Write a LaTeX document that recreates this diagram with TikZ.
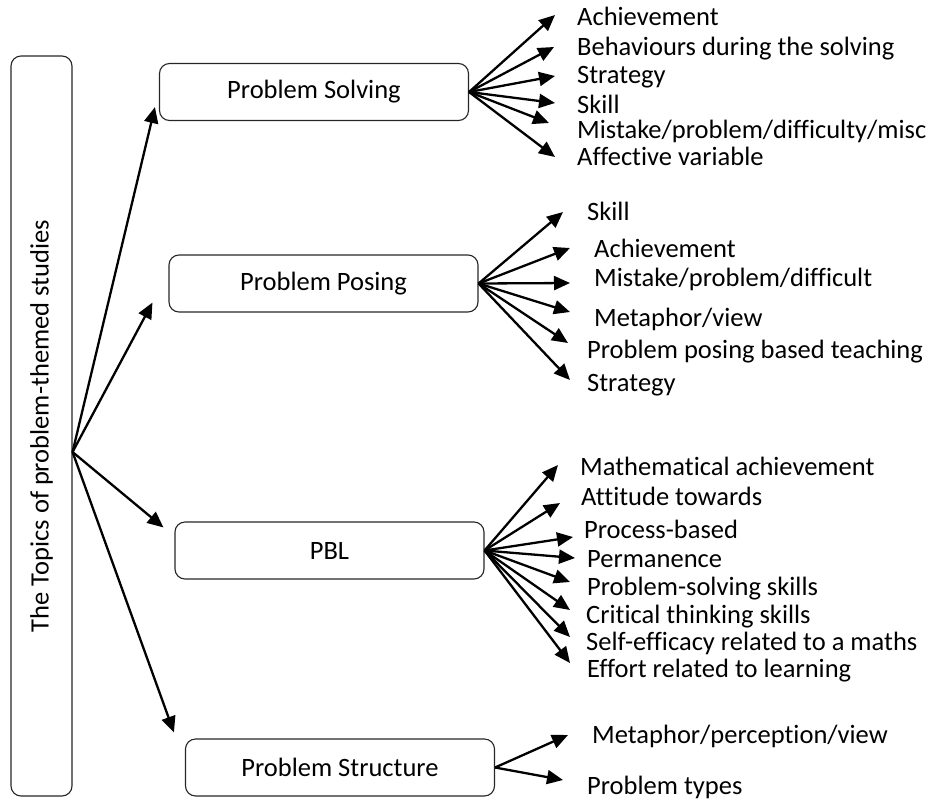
\documentclass[tikz,border=0pt]{standalone}
\usepackage{fontspec}
\setmainfont{Carlito}[Ligatures=NoCommon]
\usetikzlibrary{arrows.meta}

\begin{document}
\begin{tikzpicture}[x=1pt, y=-1pt]
  \tikzstyle{topic_main}  = [shape = rectangle, draw = black!85, line width=1.1pt, rounded corners=10pt, minimum width=740pt, minimum height=61pt, inner sep=0pt, font=\fontsize{26.5}{30}\selectfont]
  \tikzstyle{topic_box}   = [shape = rectangle, draw = black!85, line width=1.1pt, rounded corners=10pt, minimum width=309pt, minimum height=57pt, inner sep=0pt, font=\fontsize{26.5}{30}\selectfont]
  \tikzstyle{topic_item}  = [anchor = west, inner sep=0pt, text height=17pt, text depth=0pt, font=\fontsize{26.5}{30}\selectfont]
  \tikzstyle{topic_arrow} = [-{Triangle[length=16pt, width=14pt]}, line width=2.3pt]

  \useasboundingbox (0,0) rectangle (935,801);

  \node[topic_main, rotate=90] at (41.5,426) (t) {The Topics of problem-themed studies};
  \coordinate (hub) at ([yshift=-26pt]t.south);

  \node[topic_box] at (314.0, 92.0) (n1) {Problem Solving};
  \node[topic_box] at (323.5,283.5) (n2) {Problem Posing};
  \node[topic_box] at (329.5,550.5) (n3) {PBL};
  \node[topic_box] at (340.0,767.5) (n4) {Problem Structure};

  % problem solving
  \node[topic_item] at (577, 17) (n1_l1) {Achievement};
  \node[topic_item] at (577, 47) (n1_l2) {Behaviours during the solving};
  \node[topic_item] at (577, 75) (n1_l3) {Strategy};
  \node[topic_item] at (577,105) (n1_l4) {Skill};
  \node[topic_item] at (577,130) (n1_l5) {Mistake/problem/difficulty/misc};
  \node[topic_item] at (577,157) (n1_l6) {Affective variable};

  % problem posing
  \node[topic_item] at (587,212) (n2_l1) {Skill};
  \node[topic_item] at (594,249) (n2_l2) {Achievement};
  \node[topic_item] at (594,278) (n2_l3) {Mistake/problem/difficult};
  \node[topic_item] at (594,318) (n2_l4) {Metaphor/view};
  \node[topic_item] at (587,350) (n2_l5) {Problem posing based teaching};
  \node[topic_item] at (587,383) (n2_l6) {Strategy};

  % PBL
  \node[topic_item] at (580,467) (n3_l1) {Mathematical achievement};
  \node[topic_item] at (581,497) (n3_l2) {Attitude towards};
  \node[topic_item] at (584,530) (n3_l3) {Process-based};
  \node[topic_item] at (587,559) (n3_l4) {Permanence};
  \node[topic_item] at (587,587) (n3_l5) {Problem-solving skills};
  \node[topic_item] at (586,615) (n3_l6) {Critical thinking skills};
  \node[topic_item] at (586,642) (n3_l7) {Self-efficacy related to a maths};
  \node[topic_item] at (587,669) (n3_l8) {Effort related to learning};

  % problem structure
  \node[topic_item] at (592,735) (n4_l1) {Metaphor/perception/view};
  \node[topic_item] at (587,786) (n4_l2) {Problem types};

  \path[topic_arrow]
    (hub) edge ([xshift=-4pt,  yshift=14pt]n1.south west)
    (hub) edge ([xshift=-16pt, yshift=10pt]n2.south west)
    (hub) edge ([xshift=-11pt, yshift=-6pt]n3.north west)
    (hub) edge ([xshift=-11pt, yshift=6pt]n4.north west)
  ;

  \path[topic_arrow]
    (n1.east) edge ([xshift=-22pt, yshift=2pt]n1_l1.west)
    (n1.east) edge ([xshift=-23pt]n1_l2.west)
    (n1.east) edge ([xshift=-22pt, yshift=-1pt]n1_l3.west)
    (n1.east) edge ([xshift=-22pt, yshift=2pt]n1_l4.west)
    (n1.east) edge ([xshift=-28pt, yshift=7pt]n1_l5.west)
    (n1.east) edge ([xshift=-22pt]n1_l6.west)
  ;

  \path[topic_arrow]
    (n2.east) edge ([xshift=-24pt]n2_l1.west)
    (n2.east) edge ([xshift=-24pt, yshift=1pt]n2_l2.west)
    (n2.east) edge ([xshift=-24pt, yshift=-5pt]n2_l3.west)
    (n2.east) edge ([xshift=-24pt, yshift=6pt]n2_l4.west)
    (n2.east) edge ([xshift=-19pt, yshift=7pt]n2_l5.west)
    (n2.east) edge ([xshift=-17pt, yshift=3pt]n2_l6.west)
  ;

  \path[topic_arrow]
    (n3.east) edge ([xshift=-22pt, yshift=2pt]n3_l1.west)
    (n3.east) edge ([xshift=-21pt, yshift=-6pt]n3_l2.west)
    (n3.east) edge ([xshift=-11pt, yshift=-7pt]n3_l3.west)
    (n3.east) edge ([xshift=-12pt, yshift=1pt]n3_l4.west)
    (n3.east) edge ([xshift=-17pt, yshift=5pt]n3_l5.west)
    (n3.east) edge ([xshift=-16pt, yshift=5pt]n3_l6.west)
    (n3.east) edge ([xshift=-16pt, yshift=5pt]n3_l7.west)
    (n3.east) edge ([xshift=-17pt, yshift=6pt]n3_l8.west)
  ;

  \path[topic_arrow]
    (n4.east) edge ([xshift=-24pt]n4_l1.west)
    (n4.east) edge ([xshift=-24pt, yshift=6pt]n4_l2.west)
  ;
\end{tikzpicture}
\end{document}
